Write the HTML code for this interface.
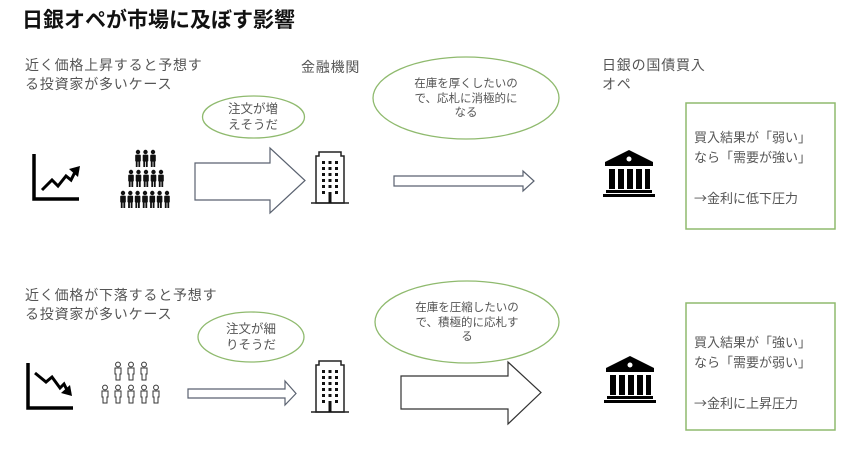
<!DOCTYPE html>
<html><head><meta charset="utf-8"><style>
html,body{margin:0;padding:0;background:#fff;}
body{width:860px;height:459px;overflow:hidden;position:relative;font-family:"Liberation Sans","Noto Sans CJK JP",sans-serif;color:#555;}
.t{position:absolute;font-size:14px;line-height:19px;white-space:nowrap;}
.s{position:absolute;font-size:11.5px;line-height:14.5px;text-align:center;color:#555;white-space:nowrap;}
.ar{font-family:"Noto Sans CJK JP",sans-serif;}
svg{position:absolute;left:0;top:0;}
</style></head><body>
<svg width="860" height="459" viewBox="0 0 860 459">
<defs>
<g id="p"><circle cx="0" cy="2" r="2.2" fill="#111"/><rect x="-2.8" y="4.6" width="5.6" height="7" rx="1" fill="#111"/><rect x="-2.2" y="11" width="1.8" height="6" fill="#111"/><rect x="0.4" y="11" width="1.8" height="6" fill="#111"/></g>
<g id="q" fill="none" stroke="#333" stroke-width="1"><circle cx="0" cy="2.5" r="2.4"/><path d="M-3,6 h6 v6 h-1 v6 h-4 v-6 h-1 z"/></g>
<g id="bld"><path d="M8,0 h22 v4 h3 v47 h-28 v-47 h3 z" fill="none" stroke="#222" stroke-width="1.5"/><line x1="0" y1="51" x2="38" y2="51" stroke="#222" stroke-width="1.5"/>
<g fill="#111"><rect x="11" y="9" width="3" height="3"/><rect x="17.5" y="9" width="3" height="3"/><rect x="24" y="9" width="3" height="3"/>
<rect x="11" y="15" width="3" height="3"/><rect x="17.5" y="15" width="3" height="3"/><rect x="24" y="15" width="3" height="3"/>
<rect x="11" y="21" width="3" height="3"/><rect x="17.5" y="21" width="3" height="3"/><rect x="24" y="21" width="3" height="3"/>
<rect x="11" y="27" width="3" height="3"/><rect x="17.5" y="27" width="3" height="3"/><rect x="24" y="27" width="3" height="3"/>
<rect x="11" y="33" width="3" height="3"/><rect x="17.5" y="33" width="3" height="3"/><rect x="24" y="33" width="3" height="3"/>
<rect x="11" y="39" width="3" height="3"/><rect x="24" y="39" width="3" height="3"/><rect x="17.5" y="40" width="3" height="11"/></g></g>
<g id="bank" fill="#000"><path d="M26,0 L50,12 L50,16 L2,16 L2,12 Z"/><circle cx="26" cy="9" r="2.5" fill="#fff"/><rect x="6" y="19" width="6" height="20"/><rect x="15" y="19" width="6" height="20"/><rect x="24" y="19" width="6" height="20"/><rect x="33" y="19" width="6" height="20"/><rect x="42" y="19" width="5" height="20"/><rect x="3" y="40" width="46" height="3"/><rect x="0" y="44" width="52" height="3"/></g>
</defs>
<path d="M34,154 V199 H79" fill="none" stroke="#000" stroke-width="3.5"/>
<path d="M42,190 L52,180 L58,186 L66,176 L71,180 L75,172" fill="none" stroke="#000" stroke-width="3"/><path d="M69,169 L80,166 L78,177 Z" fill="#000"/>
<g><use href="#p" x="138" y="150"/><use href="#p" x="145.5" y="150"/><use href="#p" x="153" y="150"/>
<use href="#p" x="131" y="170"/><use href="#p" x="138.5" y="170"/><use href="#p" x="146" y="170"/><use href="#p" x="153.5" y="170"/><use href="#p" x="161" y="170"/>
<use href="#p" x="123" y="191"/><use href="#p" x="130.3" y="191"/><use href="#p" x="137.6" y="191"/><use href="#p" x="145" y="191"/><use href="#p" x="152.3" y="191"/><use href="#p" x="159.6" y="191"/><use href="#p" x="167" y="191"/></g>
<path d="M195,163 H270 V148 L305,180.5 L270,213 V200 H195 Z" fill="#fff" stroke="#5a6270" stroke-width="1.2"/>
<use href="#bld" x="311" y="152"/>
<ellipse cx="253.5" cy="117" rx="51" ry="21" fill="none" stroke="#8fba6e" stroke-width="1.3"/>
<ellipse cx="466" cy="98" rx="93" ry="41" fill="none" stroke="#8fba6e" stroke-width="1.3"/>
<path d="M394,176 H523 V171 L534,181 L523,191 V186 H394 Z" fill="#fff" stroke="#5a6270" stroke-width="1.2"/>
<use href="#bank" x="603" y="150"/>
<rect x="686" y="103" width="149" height="126" fill="none" stroke="#8fba6e" stroke-width="1.5"/>
<path d="M28,363 V408 H73" fill="none" stroke="#000" stroke-width="3.5"/>
<path d="M35,373 L46,382 L52,377 L60,388 L64,384 L67,390" fill="none" stroke="#000" stroke-width="3"/><path d="M61,393 L72,396 L70,385 Z" fill="#000"/>
<g><use href="#q" x="118" y="362"/><use href="#q" x="131" y="362"/><use href="#q" x="144" y="362"/>
<use href="#q" x="105" y="385"/><use href="#q" x="118" y="385"/><use href="#q" x="131" y="385"/><use href="#q" x="144" y="385"/><use href="#q" x="156" y="385"/></g>
<path d="M188,389 H285 V381 L296,393.5 L285,405 V398 H188 Z" fill="#fff" stroke="#5a6270" stroke-width="1.2"/>
<use href="#bld" x="311" y="361"/>
<ellipse cx="251" cy="337" rx="53" ry="25" fill="none" stroke="#8fba6e" stroke-width="1.3"/>
<ellipse cx="467" cy="322" rx="92" ry="41" fill="none" stroke="#8fba6e" stroke-width="1.3"/>
<path d="M401,376 H508 V362 L541,392.5 L508,424 V409 H401 Z" fill="#fff" stroke="#333" stroke-width="1.2"/>
<use href="#bank" x="604" y="356"/>
<rect x="686" y="303" width="149" height="127" fill="none" stroke="#8fba6e" stroke-width="1.5"/>
</svg>
<div class="t" style="left:22px;top:7px;font-size:21px;line-height:28px;font-weight:bold;color:#111;">日銀オペが市場に及ぼす影響</div>
<div class="t" style="left:25px;top:56px;letter-spacing:0.8px;">近く価格上昇すると予想す<br>る投資家が多いケース</div>
<div class="t" style="left:301px;top:58px;letter-spacing:0.8px;">金融機関</div>
<div class="s" style="left:203px;top:101px;width:100px;font-size:12.5px;line-height:16px;">注文が増<br>えそうだ</div>
<div class="s" style="left:374px;top:77px;width:184px;">在庫を厚くしたいの<br>で、応札に消極的に<br>なる</div>
<div class="t" style="left:602px;top:56px;letter-spacing:0.8px;">日銀の国債買入<br>オペ</div>
<div class="t" style="left:694px;top:128px;font-size:13px;line-height:20px;"><span>買入結果が「弱い」</span><br>なら「需要が強い」<br><br><span class="ar">→</span>金利に低下圧力</div>
<div class="t" style="left:25px;top:286px;letter-spacing:0.8px;">近く価格が下落すると予想す<br>る投資家が多いケース</div>
<div class="s" style="left:199px;top:321px;width:104px;font-size:12.5px;line-height:16px;">注文が細<br>りそうだ</div>
<div class="s" style="left:375px;top:301px;width:184px;">在庫を圧縮したいの<br>で、積極的に応札す<br>る</div>
<div class="t" style="left:694px;top:333px;font-size:13px;line-height:20px;">買入結果が「強い」<br>なら「需要が弱い」<br><br><span class="ar">→</span>金利に上昇圧力</div>
</body></html>
